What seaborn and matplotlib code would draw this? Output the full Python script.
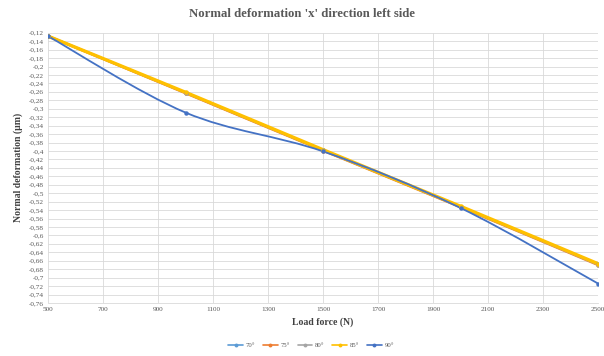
import matplotlib
matplotlib.use("Agg")
import matplotlib.pyplot as plt
import matplotlib.ticker as mticker
from matplotlib.path import Path
from matplotlib.patches import PathPatch
from matplotlib.lines import Line2D
import numpy as np
import pandas as pd
import seaborn as sns

# Load force (N) and normal deformation (µm) per angle
load_force = [500, 1000, 1500, 2000, 2500]
angles = ["70°", "75°", "80°", "85°", "90°"]
def_70 = [-0.128, -0.262, -0.398, -0.532, -0.668]
def_75 = [-0.128, -0.263, -0.399, -0.533, -0.670]
def_80 = [-0.128, -0.262, -0.398, -0.532, -0.669]
def_85 = [-0.128, -0.261, -0.397, -0.531, -0.667]
def_90 = [-0.128, -0.309, -0.401, -0.535, -0.714]
x_ticks = list(range(500, 2501, 200))
y_ticks = [round(-0.12 - 0.02 * i, 2) for i in range(33)]

colors = ["#5B9BD5", "#ED7D31", "#A5A5A5", "#FFC000", "#4472C4"]
widths = [1.6, 1.8, 1.6, 2.4, 1.3]

df = pd.DataFrame({
    "load": load_force * 5,
    "deformation": def_70 + def_75 + def_80 + def_85 + def_90,
    "angle": [a for a in angles for _ in load_force],
})


def smooth_path(xs, ys):
    """Cubic Bezier through the points, spreadsheet-style smoothed line."""
    pts = np.column_stack([xs, ys]).astype(float)
    n = len(pts)
    verts = [pts[0]]
    codes = [Path.MOVETO]
    for i in range(n - 1):
        p_prev = pts[i - 1] if i > 0 else pts[i]
        p_next2 = pts[i + 2] if i + 2 < n else pts[i + 1]
        c1 = pts[i] + (pts[i + 1] - p_prev) / 6.0
        c2 = pts[i + 1] - (p_next2 - pts[i]) / 6.0
        verts += [c1, c2, pts[i + 1]]
        codes += [Path.CURVE4] * 3
    return Path(verts, codes)


sns.set_theme(style="white")
plt.rcParams["font.family"] = ["Liberation Serif", "DejaVu Serif"]

fig = plt.figure(figsize=(6.04, 3.56), dpi=100)
ax = fig.add_axes([0.0795, 0.149, 0.9106, 0.759])

handles = []
for a, c, w in zip(angles, colors, widths):
    sub = df[df["angle"] == a]
    ax.add_patch(PathPatch(smooth_path(sub["load"], sub["deformation"]),
                           fill=False, edgecolor=c, linewidth=w,
                           capstyle="round", joinstyle="round"))
    sns.lineplot(data=sub, x="load", y="deformation", ax=ax, color=c,
                 linestyle="none", marker="o", markersize=3.2,
                 markeredgewidth=0, sort=False, errorbar=None, legend=False)
    handles.append(Line2D([], [], color=c, linewidth=1.2, marker="o",
                          markersize=2.8, markeredgewidth=0, label=a))

ax.set_xlim(500, 2500)
ax.set_ylim(-0.76, -0.12)
ax.set_xticks(x_ticks)
ax.set_yticks(y_ticks)
ax.yaxis.set_major_formatter(mticker.FuncFormatter(
    lambda v, p: (f"{v:.2f}".rstrip("0").rstrip(".")).replace(".", ",")))
ax.tick_params(axis="both", labelsize=5.2, colors="#595959", length=0, pad=3)
ax.grid(True, color="#D9D9D9", linewidth=0.6)
for s in ["top", "right", "left"]:
    ax.spines[s].set_visible(False)
ax.spines["bottom"].set_color("#D9D9D9")
ax.spines["bottom"].set_linewidth(0.6)

ax.set_xlabel("Load force (N)", fontsize=7, fontweight="bold", color="#404040", labelpad=4)
ax.set_ylabel("Normal deformation (µm)", fontsize=7, fontweight="bold", color="#404040", labelpad=4)
fig.text(0.5, 0.962, "Normal deformation 'x' direction left side", ha="center", va="center",
         fontsize=9.2, fontweight="bold", color="#595959")

leg = fig.legend(handles=handles, loc="center", bbox_to_anchor=(311 / 604, 11 / 356),
                 ncol=5, frameon=False, fontsize=4.8, handlelength=2.2,
                 columnspacing=1.2, handletextpad=0.4)
for t in leg.get_texts():
    t.set_color("#595959")

fig.savefig("out.png", dpi=100)
